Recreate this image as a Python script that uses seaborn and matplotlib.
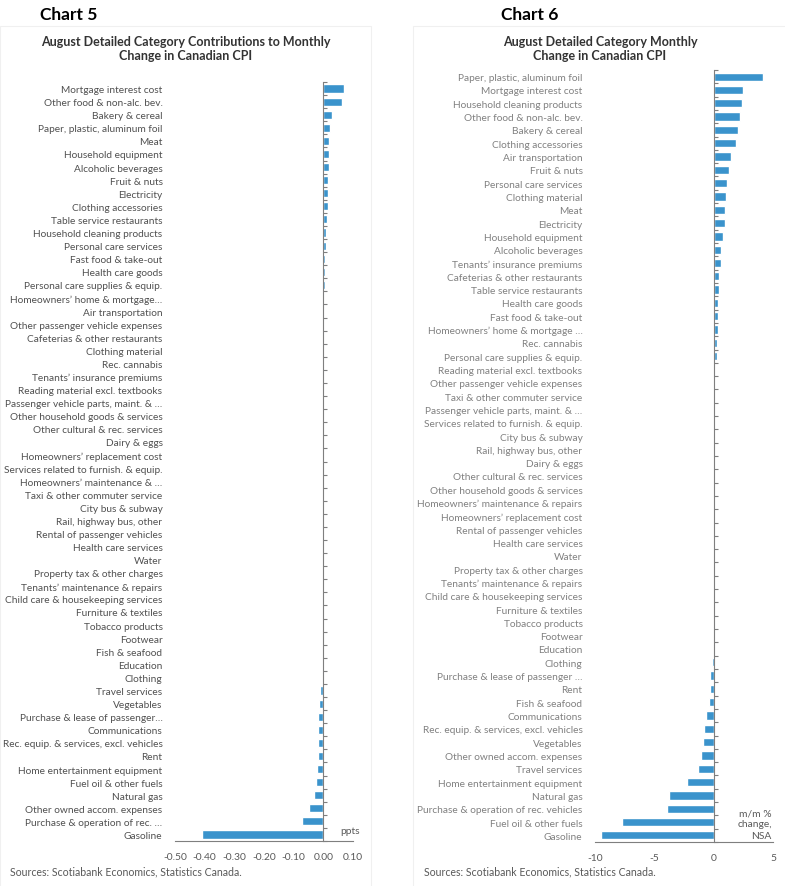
import numpy as np
import matplotlib
matplotlib.use("Agg")
import matplotlib.pyplot as plt
import seaborn as sns
from matplotlib.patches import Rectangle

sns.set_style("white")
plt.rcParams['font.family'] = ['Lato', 'DejaVu Sans']

# Chart 5: contributions to monthly change (ppts)
cats5 = [
    "Mortgage interest cost", "Other food & non-alc. bev.", "Bakery & cereal",
    "Paper, plastic, aluminum foil", "Meat", "Household equipment",
    "Alcoholic beverages", "Fruit & nuts", "Electricity", "Clothing accessories",
    "Table service restaurants", "Household cleaning products",
    "Personal care services", "Fast food & take-out", "Health care goods",
    "Personal care supplies & equip.", "Homeowners’ home & mortgage…",
    "Air transportation", "Other passenger vehicle expenses",
    "Cafeterias & other restaurants", "Clothing material", "Rec. cannabis",
    "Tenants’ insurance premiums", "Reading material excl. textbooks",
    "Passenger vehicle parts, maint. & …", "Other household goods & services",
    "Other cultural & rec. services", "Dairy & eggs",
    "Homeowners’ replacement cost", "Services related to furnish. & equip.",
    "Homeowners’ maintenance & …", "Taxi & other commuter service",
    "City bus & subway", "Rail, highway bus, other",
    "Rental of passenger vehicles", "Health care services", "Water",
    "Property tax & other charges", "Tenants’ maintenance & repairs",
    "Child care & housekeeping services", "Furniture & textiles",
    "Tobacco products", "Footwear", "Fish & seafood", "Education", "Clothing",
    "Travel services", "Vegetables", "Purchase & lease of passenger…",
    "Communications", "Rec. equip. & services, excl. vehicles", "Rent",
    "Home entertainment equipment", "Fuel oil & other fuels", "Natural gas",
    "Other owned accom. expenses", "Purchase & operation of rec. …", "Gasoline",
]
vals5 = [
    0.070, 0.063, 0.029, 0.021, 0.020, 0.019, 0.018, 0.017, 0.016, 0.015,
    0.012, 0.010, 0.008, 0.006, 0.005, 0.004, 0.003, 0.003, 0.002, 0.002,
    0.002, 0.001, 0.001, 0.000, 0.000, 0.000, 0.000, 0.000, 0.000, 0.000,
    0.000, 0.000, 0.000, 0.000, 0.000, 0.000, 0.000, 0.000, 0.000, 0.000,
    0.000, 0.000, 0.000, -0.001, -0.001, -0.003, -0.011, -0.013, -0.017,
    -0.017, -0.018, -0.019, -0.020, -0.026, -0.030, -0.047, -0.072, -0.408,
]
xticks5 = [-0.5, -0.4, -0.3, -0.2, -0.1, 0.0, 0.1]
xlabels5 = ["-0.50", "-0.40", "-0.30", "-0.20", "-0.10", "0.00", "0.10"]

# Chart 6: monthly % change
cats6 = [
    "Paper, plastic, aluminum foil", "Mortgage interest cost",
    "Household cleaning products", "Other food & non-alc. bev.",
    "Bakery & cereal", "Clothing accessories", "Air transportation",
    "Fruit & nuts", "Personal care services", "Clothing material", "Meat",
    "Electricity", "Household equipment", "Alcoholic beverages",
    "Tenants’ insurance premiums", "Cafeterias & other restaurants",
    "Table service restaurants", "Health care goods", "Fast food & take-out",
    "Homeowners’ home & mortgage …", "Rec. cannabis",
    "Personal care supplies & equip.", "Reading material excl. textbooks",
    "Other passenger vehicle expenses", "Taxi & other commuter service",
    "Passenger vehicle parts, maint. & …",
    "Services related to furnish. & equip.", "City bus & subway",
    "Rail, highway bus, other", "Dairy & eggs", "Other cultural & rec. services",
    "Other household goods & services", "Homeowners’ maintenance & repairs",
    "Homeowners’ replacement cost", "Rental of passenger vehicles",
    "Health care services", "Water", "Property tax & other charges",
    "Tenants’ maintenance & repairs", "Child care & housekeeping services",
    "Furniture & textiles", "Tobacco products", "Footwear", "Education",
    "Clothing", "Purchase & lease of passenger …", "Rent", "Fish & seafood",
    "Communications", "Rec. equip. & services, excl. vehicles", "Vegetables",
    "Other owned accom. expenses", "Travel services",
    "Home entertainment equipment", "Natural gas",
    "Purchase & operation of rec. vehicles", "Fuel oil & other fuels",
    "Gasoline",
]
vals6 = [
    4.12, 2.44, 2.38, 2.21, 2.04, 1.90, 1.43, 1.26, 1.15, 1.06,
    0.98, 0.92, 0.81, 0.64, 0.62, 0.48, 0.48, 0.39, 0.36, 0.34,
    0.28, 0.28, 0.08, 0.06, 0.00, 0.00, 0.00, 0.00, 0.00, 0.00,
    0.00, 0.00, 0.00, 0.00, 0.00, 0.00, 0.00, 0.00, 0.00, 0.00,
    0.00, -0.04, -0.08, -0.09, -0.12, -0.28, -0.34, -0.39, -0.67, -0.78,
    -0.92, -1.06, -1.29, -2.24, -3.73, -3.92, -7.73, -9.47,
]
xticks6 = [-10, -5, 0, 5]
xlabels6 = ["-10", "-5", "0", "5"]

BAR = "#3a93cc"
AXIS = "#7f7f7f"
TXT = "#595959"

W, H = 785, 887
fig = plt.figure(figsize=(W / 100, H / 100), dpi=100)


def box(x0, y0, x1, y1):
    # pixel box -> figure fraction [left, bottom, width, height]
    return [x0 / W, 1 - y1 / H, (x1 - x0) / W, (y1 - y0) / H]


def draw(rect, cats, vals, xticks, xlabels, label_color):
    ax = fig.add_axes(rect)
    sns.barplot(x=vals, y=cats, orient="y", color=BAR, saturation=1,
                width=0.62, ax=ax)
    n = len(cats)
    ax.set_xlim(xticks[0], xticks[-1])
    ax.set_ylim(n - 0.5, -0.5)
    ax.set_xlabel("")
    ax.set_ylabel("")
    for s in ["left", "top", "right"]:
        ax.spines[s].set_visible(False)
    ax.spines["bottom"].set_color(AXIS)
    ax.spines["bottom"].set_linewidth(0.8)
    ax.set_xticks(xticks)
    ax.set_xticklabels(xlabels)
    ax.set_xticks([xticks[0], xticks[-1]], minor=True)
    ax.tick_params(axis="x", which="major", length=0, pad=8,
                   labelsize=7.4, labelcolor=TXT)
    ax.tick_params(axis="x", which="minor", length=3, color=AXIS, width=0.8)
    ax.tick_params(axis="y", length=0, pad=9, labelsize=7.3,
                   labelcolor=label_color)

    # vertical axis at zero with category boundary ticks
    ax2 = ax.twinx()
    ax2.set_ylim(ax.get_ylim())
    ax2.spines["left"].set_position(("data", 0))
    ax2.spines["left"].set_color(AXIS)
    ax2.spines["left"].set_linewidth(0.8)
    for s in ["right", "top", "bottom"]:
        ax2.spines[s].set_visible(False)
    ax2.yaxis.set_ticks_position("left")
    ax2.set_yticks(np.arange(-0.5, n, 1))
    ax2.set_yticklabels([])
    ax2.tick_params(axis="y", direction="in", length=3, color=AXIS, width=0.8)
    return ax


# faint panel borders
for x0, x1 in [(0, 371), (413, 790)]:
    fig.patches.append(Rectangle((x0 / W, -0.05), (x1 - x0) / W, 1.05 - 27 / H,
                                 transform=fig.transFigure, fill=False,
                                 edgecolor="#f0f0f0", linewidth=0.8))

draw(box(175, 83, 353, 842), cats5, vals5, xticks5, xlabels5, "#505050")
draw(box(595, 71, 773, 843), cats6, vals6, xticks6, xlabels6, "#808080")

fig.text(40 / W, 1 - 15 / H, "Chart 5", fontsize=12.5, weight="bold",
         va="center", ha="left", color="black")
fig.text(501 / W, 1 - 15 / H, "Chart 6", fontsize=12.5, weight="bold",
         va="center", ha="left", color="black")
fig.text(186 / W, 1 - 49 / H,
         "August Detailed Category Contributions to Monthly\nChange in Canadian CPI",
         fontsize=9, weight="bold", color="#333333", ha="center", va="center",
         linespacing=1.3)
fig.text(600 / W, 1 - 49 / H,
         "August Detailed Category Monthly\nChange in Canadian CPI",
         fontsize=9, weight="bold", color="#333333", ha="center", va="center",
         linespacing=1.3)

fig.text(340 / W, 1 - 832 / H, "ppts", fontsize=7.4, color=TXT,
         ha="left", va="center")
fig.text(772 / W, 1 - 825 / H, "m/m %\nchange,\nNSA", fontsize=7.4, color=TXT,
         ha="right", va="center", linespacing=1.35)

fig.text(10 / W, 1 - 872 / H, "Sources: Scotiabank Economics, Statistics Canada.",
         fontsize=7.6, color=TXT, ha="left", va="center")
fig.text(424 / W, 1 - 872 / H, "Sources: Scotiabank Economics, Statistics Canada.",
         fontsize=7.6, color=TXT, ha="left", va="center")

fig.savefig("out.png", dpi=100)
